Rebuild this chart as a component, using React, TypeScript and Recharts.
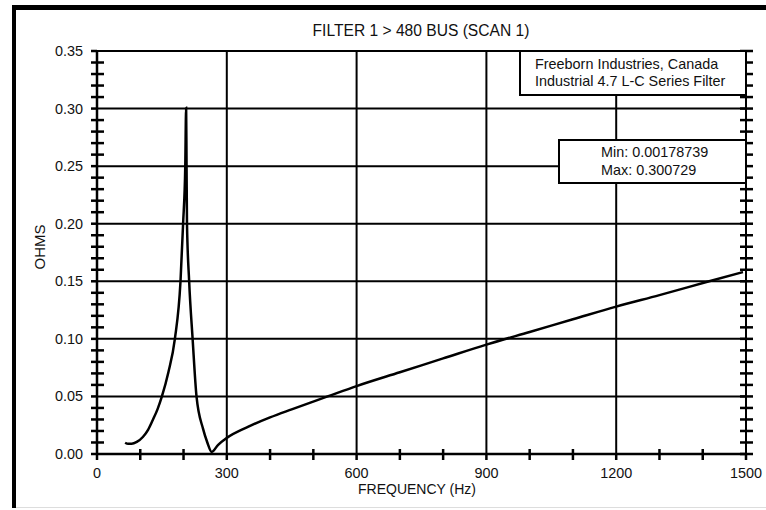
import React from 'react';
import { LineChart, Line, XAxis, YAxis, ReferenceLine } from 'recharts';

// readings: frequency (Hz) vs impedance (ohms)
const freqs = [65, 72, 80, 92, 106, 118, 129, 140, 150, 165, 180, 193, 199, 204, 206, 207, 208, 213, 221, 230, 245, 255, 265, 280, 300, 350, 400, 450, 533, 600, 700, 800, 900, 1000, 1100, 1200, 1300, 1415, 1493];
const ohms = [0.0098, 0.0088, 0.0088, 0.0105, 0.0148, 0.021, 0.0296, 0.039, 0.05, 0.071, 0.1, 0.15, 0.2, 0.25, 0.300729, 0.25, 0.2, 0.15, 0.1, 0.05, 0.022, 0.01, 0.00178739, 0.008, 0.014, 0.0238, 0.0318, 0.0388, 0.05, 0.059, 0.071, 0.083, 0.095, 0.106, 0.117, 0.128, 0.138, 0.15, 0.158];

const xTicks = [0, 100, 200, 300, 400, 500, 600, 700, 800, 900, 1000, 1100, 1200, 1300, 1400, 1500];
const xMajor = [0, 300, 600, 900, 1200, 1500];
const yTicks = [0, 0.01, 0.02, 0.03, 0.04, 0.05, 0.06, 0.07, 0.08, 0.09, 0.1, 0.11, 0.12, 0.13, 0.14, 0.15, 0.16, 0.17, 0.18, 0.19, 0.2, 0.21, 0.22, 0.23, 0.24, 0.25, 0.26, 0.27, 0.28, 0.29, 0.3, 0.31, 0.32, 0.33, 0.34, 0.35];
const yMajor = [0, 0.05, 0.1, 0.15, 0.2, 0.25, 0.3, 0.35];

const data = freqs.map((f, i) => ({ freq: f, ohms: ohms[i] }));

const FONT = '"Liberation Sans", Arial, sans-serif';

const isMajorY = (v: number) => yMajor.some((m) => Math.abs(m - v) < 1e-9);

const XTick = (props: any) => {
  const { x, y, payload } = props;
  const v = payload.value;
  const major = xMajor.includes(v);
  return (
    <g>
      <line x1={x} x2={x} y1={major ? y : y - 5} y2={y + 6} stroke="#000" strokeWidth={2.5} />
      {major && (
        <text x={x} y={y + 24} textAnchor="middle" fontSize={14.4} fontFamily={FONT} fill="#111">
          {v}
        </text>
      )}
    </g>
  );
};

const YTickLeft = (props: any) => {
  const { x, y, payload } = props;
  const v = payload.value;
  const major = isMajorY(v);
  return (
    <g>
      <line x1={x - 6} x2={major ? x : x + 7} y1={y} y2={y} stroke="#000" strokeWidth={2.5} />
      {major && (
        <text x={x - 14} y={y + 5} textAnchor="end" fontSize={14.4} fontFamily={FONT} fill="#111">
          {v.toFixed(2)}
        </text>
      )}
    </g>
  );
};

const YTickRight = (props: any) => {
  const { x, y } = props;
  return <line x1={x - 6} x2={x + 7} y1={y} y2={y} stroke="#000" strokeWidth={2.5} />;
};

export default function App() {
  return (
    <div style={{ position: 'absolute', left: 0, top: 0, width: 766, height: 510, background: '#fff', fontFamily: FONT }}>
      <div style={{ position: 'absolute', left: 12, top: 5, width: 754, height: 5, background: '#000' }} />
      <div style={{ position: 'absolute', left: 12, top: 5, width: 4, height: 503, background: '#000' }} />
      <div style={{ position: 'absolute', left: 16, top: 507, width: 750, height: 1, background: '#ddd' }} />

      <div style={{ position: 'absolute', left: 221, top: 22, width: 400, textAlign: 'center', fontSize: 15.6, lineHeight: '18px', color: '#111' }}>
        FILTER 1 &gt; 480 BUS (SCAN 1)
      </div>
      <div
        style={{
          position: 'absolute',
          left: 40,
          top: 247,
          fontSize: 15,
          lineHeight: '18px',
          color: '#111',
          transform: 'translate(-50%, -50%) rotate(-90deg)',
          whiteSpace: 'nowrap',
        }}
      >
        OHMS
      </div>
      <div style={{ position: 'absolute', left: 217, top: 480, width: 400, textAlign: 'center', fontSize: 14, lineHeight: '18px', color: '#111' }}>
        FREQUENCY (Hz)
      </div>

      <LineChart width={766} height={510} data={data} margin={{ top: 51, right: 10, bottom: 11, left: 37 }}>
        <XAxis
          dataKey="freq"
          type="number"
          domain={[0, 1500]}
          ticks={xTicks}
          interval={0}
          height={45}
          tickSize={0}
          tickMargin={0}
          tickLine={false}
          tick={<XTick />}
          axisLine={{ stroke: '#000', strokeWidth: 2.5 }}
        />
        <YAxis
          yAxisId="l"
          type="number"
          domain={[0, 0.35]}
          ticks={yTicks}
          interval={0}
          width={60}
          tickSize={0}
          tickMargin={0}
          tickLine={false}
          tick={<YTickLeft />}
          axisLine={{ stroke: '#000', strokeWidth: 2.5 }}
          allowDataOverflow
        />
        <YAxis
          yAxisId="r"
          orientation="right"
          type="number"
          domain={[0, 0.35]}
          ticks={yTicks}
          interval={0}
          width={10}
          tickSize={0}
          tickMargin={0}
          tickLine={false}
          tick={<YTickRight />}
          axisLine={false}
          allowDataOverflow
        />
        {xMajor.map((v) => (
          <ReferenceLine key={'x' + v} x={v} yAxisId="l" stroke="#000" strokeWidth={2} />
        ))}
        {yMajor.map((v) => (
          <ReferenceLine key={'y' + v} y={v} yAxisId="l" stroke="#000" strokeWidth={2} />
        ))}
        <Line
          yAxisId="l"
          type="monotone"
          dataKey="ohms"
          stroke="#000"
          strokeWidth={2.5}
          dot={false}
          isAnimationActive={false}
        />
      </LineChart>

      <div
        style={{
          position: 'absolute',
          left: 519,
          top: 50,
          width: 228,
          height: 46,
          boxSizing: 'border-box',
          border: '2px solid #000',
          background: '#fff',
          fontSize: 14.4,
          lineHeight: '17px',
          color: '#111',
          paddingTop: 4,
          paddingLeft: 14,
          whiteSpace: 'nowrap',
        }}
      >
        Freeborn Industries, Canada
        <br />
        Industrial 4.7 L-C Series Filter
      </div>
      <div
        style={{
          position: 'absolute',
          left: 558,
          top: 139,
          width: 189,
          height: 45,
          boxSizing: 'border-box',
          border: '2px solid #000',
          background: '#fff',
          fontSize: 14.4,
          lineHeight: '18px',
          color: '#111',
          paddingTop: 2,
          paddingLeft: 41,
          whiteSpace: 'nowrap',
        }}
      >
        Min: 0.00178739
        <br />
        Max: 0.300729
      </div>
    </div>
  );
}
